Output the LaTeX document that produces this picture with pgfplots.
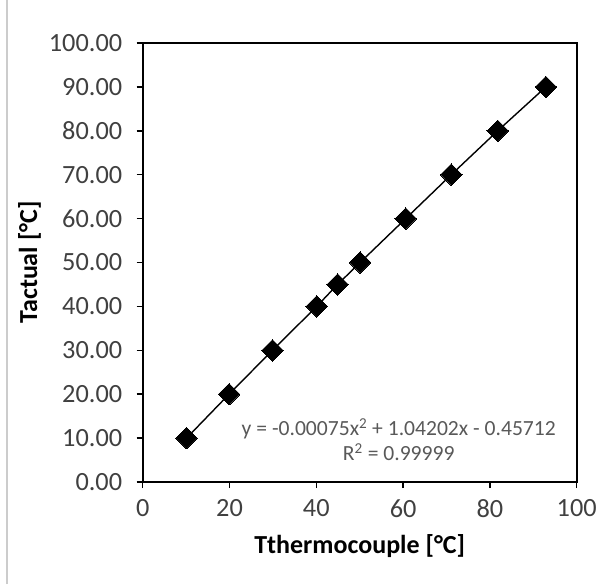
\documentclass[border=0pt]{standalone}
\usepackage{pgfplots}
\pgfplotsset{compat=1.18}
\usepackage{fontspec}
\setmainfont{Carlito}
\definecolor{tickgray}{HTML}{404040}
\definecolor{eqgray}{HTML}{595959}
\pgfplotstableread{
x y
10.1 10
19.9 20
29.9 30
40.1 40
44.9 45
50.1 50
60.6 60
71.1 70
81.8 80
92.9 90
}\datatable
\begin{document}
\begin{tikzpicture}[x=1pt,y=1pt]
\useasboundingbox (-142.7pt,-102pt) rectangle (459.3pt,482pt);
\draw[black!20, line width=1.5pt] (-135.5pt,-102pt) -- (-135.5pt,482pt);
\begin{axis}[
  at={(0pt,0pt)}, anchor=origin,
  scale only axis, width=434pt, height=439pt,
  xmin=0, xmax=100, ymin=0, ymax=100,
  xtick={0,20,...,100}, ytick={0,10,...,100},
  axis line style={line width=1.8pt, black},
  tick style={line width=1.5pt, black},
  tick align=outside, major tick length=6pt,
  xtick pos=bottom, ytick pos=left,
  /pgf/number format/assume math mode=true,
  yticklabel={\pgfmathprintnumber[fixed, fixed zerofill, precision=2]{\tick}},
  xticklabel={\pgfmathprintnumber[fixed, precision=0]{\tick}},
  ticklabel style={font=\fontsize{26.3}{30}\selectfont, text=tickgray},
  yticklabel style={xshift=-11pt},
  xticklabel style={yshift=-8pt},
  xlabel={\textbf{Tthermocouple [°C]}},
  ylabel={\textbf{Tactual [°C]}},
  label style={font=\fontsize{26}{30}\selectfont, text=black},
  xlabel style={yshift=-10pt},
  ylabel style={yshift=1pt},
  clip=false,
]
\addplot[black, line width=1.4pt, mark=square*, mark size=7.6pt,
  mark options={rotate=45, fill=black, draw=black, line width=0pt}]
  table[x=x, y=y] {\datatable};
\node[align=center, text=eqgray, font=\fontsize{21.6}{25}\selectfont, inner sep=0pt]
  at (axis cs:59,9.6) {y = -0.00075x\textsuperscript{2} + 1.04202x - 0.45712\\R\textsuperscript{2} = 0.99999};
\end{axis}
\end{tikzpicture}
\end{document}
